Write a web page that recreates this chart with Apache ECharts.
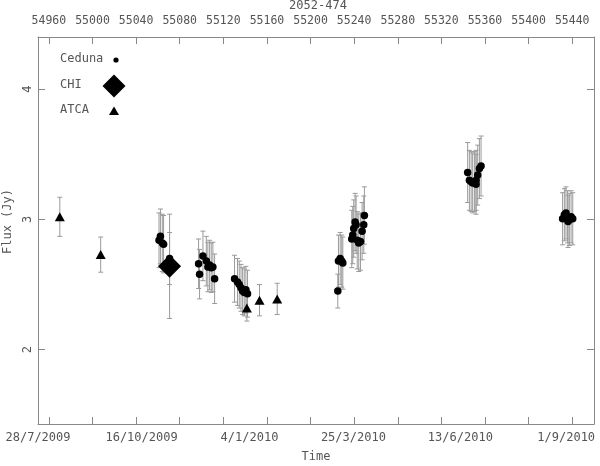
<!DOCTYPE html>
<html>
<head>
<meta charset="utf-8">
<script src="https://cdn.jsdelivr.net/npm/echarts@6/dist/echarts.min.js"></script>
<style>html,body{margin:0;padding:0;background:#fff}#c{width:600px;height:466px}</style>
</head>
<body>
<div id="c"></div>
<script>
// ---- data (MJD, flux Jy, error Jy) ----
const cedunaMJD  = [55061,55062.3,55064,55065.2,55070.7,
  55097.3,55101.3,55098.2,55104.4,55105.8,55107.4,55108.9,55110.4,55112,
  55130.3,55133,55134.6,55136.2,55137.7,55139.2,55140.7,55142.2,
  55225,55225.6,55227.2,55228.6,55229.6,55237.8,55238.7,55239.6,55240.9,55241.8,55242.8,55244.2,55245.8,55247.3,55248.8,55249.4,
  55344.1,55345.7,55347.3,55348.7,55350.3,55351.8,55351.8,55353.3,55354.9,55356.4,
  55431.2,55432.8,55434.3,55435.8,55436.2,55437.4,55439,55440.5];
const cedunaFlux = [2.84,2.87,2.82,2.81,2.70,
  2.66,2.72,2.58,2.68,2.635,2.65,2.63,2.635,2.545,
  2.545,2.52,2.50,2.475,2.45,2.44,2.46,2.43,
  2.45,2.68,2.70,2.68,2.665,2.85,2.88,2.93,2.98,2.96,2.84,2.82,2.83,2.91,2.96,3.03,
  3.36,3.30,3.29,3.28,3.29,3.30,3.27,3.34,3.39,3.41,
  3.005,3.036,3.05,3.02,2.985,3.0,3.02,3.005];
const cedunaErr  = [0.21,0.21,0.22,0.22,0.20,
  0.19,0.19,0.19,0.19,0.19,0.19,0.19,0.19,0.19,
  0.18,0.18,0.18,0.18,0.18,0.18,0.18,0.18,
  0.13,0.20,0.20,0.20,0.20,0.22,0.22,0.22,0.22,0.22,0.22,0.22,0.22,0.22,0.22,0.22,
  0.23,0.23,0.23,0.23,0.23,0.23,0.23,0.23,0.23,0.23,
  0.20,0.20,0.20,0.20,0.20,0.20,0.20,0.20];
const chiMJD  = [55070.7];
const chiFlux = [2.64];
const chiErr  = [0.40];
const atcaMJD  = [54970,55007.5,55141.6,55153.2,55169.4];
const atcaFlux = [3.02,2.73,2.32,2.38,2.39];
const atcaErr  = [0.15,0.135,0.10,0.12,0.12];
// ---- axis ticks / labels ----
const mjdTicks = [54960,55000,55040,55080,55120,55160,55200,55240,55280,55320,55360,55400,55440];
const dateLabels = ['28/7/2009','16/10/2009','4/1/2010','25/3/2010','13/6/2010','1/9/2010'];
const datePositions = [54950,55045,55144,55239.3,55337.4,55434.5];
const fluxTicks = [2,3,4];

const pack = (a,b,c)=>a.map((v,i)=>[v,b[i],c[i]]);
const ced = pack(cedunaMJD,cedunaFlux,cedunaErr);
const chi = pack(chiMJD,chiFlux,chiErr);
const atca = pack(atcaMJD,atcaFlux,atcaErr);

const FONT = 'DejaVu Sans Mono';
const TXT = '#555';
const AX = '#888';

function errRender(params, api){
  const x = api.value(0), y = api.value(1), e = api.value(2);
  const lo = api.coord([x, y-e]), hi = api.coord([x, y+e]);
  const w = 2.5;
  const st = {stroke:'#9a9a9a', lineWidth:1};
  return {type:'group', children:[
    {type:'line', shape:{x1:lo[0],y1:lo[1],x2:hi[0],y2:hi[1]}, style:st},
    {type:'line', shape:{x1:lo[0]-w,y1:lo[1],x2:lo[0]+w,y2:lo[1]}, style:st},
    {type:'line', shape:{x1:hi[0]-w,y1:hi[1],x2:hi[0]+w,y2:hi[1]}, style:st}
  ]};
}

const XMIN = 54950, XMAX = 55460, YMIN = 1.43, YMAX = 4.4;
const chart = echarts.init(document.getElementById('c'), null, {renderer:'canvas'});
chart.setOption({
  animation:false,
  backgroundColor:'#fff',
  title:{text:'2052-474', left:318, top:0, padding:0, textAlign:'center',
    textStyle:{fontFamily:FONT, fontSize:12, fontWeight:'normal', color:TXT}},
  grid:{left:38, right:6, top:37, bottom:42, containLabel:false, outerBoundsMode:'none'},
  xAxis:[
    {type:'value', position:'top', min:XMIN, max:XMAX,
      axisLine:{show:true, lineStyle:{color:AX}},
      axisTick:{show:true, inside:true, length:7, lineStyle:{color:AX}, customValues:mjdTicks},
      axisLabel:{show:true, customValues:mjdTicks, margin:10, fontFamily:FONT, fontSize:11.5, color:TXT,
        formatter:(v)=>String(v)},
      splitLine:{show:false}},
    {type:'value', position:'bottom', min:XMIN, max:XMAX,
      name:'Time', nameLocation:'middle', nameGap:27,
      nameTextStyle:{fontFamily:FONT, fontSize:12, color:TXT},
      axisLine:{show:true, lineStyle:{color:AX}},
      axisTick:{show:true, inside:true, length:7, lineStyle:{color:AX}, customValues:mjdTicks},
      axisLabel:{show:true, customValues:datePositions, margin:8, fontFamily:FONT, fontSize:12, color:TXT,
        formatter:(v)=>{let b=0;for(let i=1;i<datePositions.length;i++){if(Math.abs(datePositions[i]-v)<Math.abs(datePositions[b]-v))b=i;} return dateLabels[b];}},
      splitLine:{show:false}}
  ],
  yAxis:[
    {type:'value', position:'left', min:YMIN, max:YMAX,
      name:'Flux (Jy)', nameLocation:'middle', nameRotate:90, nameGap:18,
      nameTextStyle:{fontFamily:FONT, fontSize:12, color:TXT, padding:[0,0,0,18]},
      axisLine:{show:true, lineStyle:{color:AX}},
      axisTick:{show:true, inside:true, length:7, lineStyle:{color:AX}, customValues:fluxTicks},
      axisLabel:{show:true, customValues:fluxTicks, rotate:90, margin:4, fontFamily:FONT, fontSize:12, color:TXT},
      splitLine:{show:false}},
    {type:'value', position:'right', min:YMIN, max:YMAX,
      axisLine:{show:true, lineStyle:{color:AX}},
      axisTick:{show:true, inside:true, length:7, lineStyle:{color:AX}, customValues:fluxTicks},
      axisLabel:{show:false},
      splitLine:{show:false}}
  ],
  series:[
    {type:'custom', name:'errCeduna', renderItem:errRender, data:ced, encode:{x:0,y:1}, xAxisIndex:0, yAxisIndex:0, z:1, silent:true},
    {type:'custom', name:'errCHI', renderItem:errRender, data:chi, encode:{x:0,y:1}, xAxisIndex:0, yAxisIndex:0, z:1, silent:true},
    {type:'custom', name:'errATCA', renderItem:errRender, data:atca, encode:{x:0,y:1}, xAxisIndex:0, yAxisIndex:0, z:1, silent:true},
    {type:'scatter', name:'Ceduna', data:ced.map(d=>[d[0],d[1]]), symbol:'circle', symbolSize:7.5,
      itemStyle:{color:'#000', opacity:1}, xAxisIndex:0, yAxisIndex:0, z:3},
    {type:'scatter', name:'CHI', data:chi.map(d=>[d[0],d[1]]), symbol:'diamond', symbolSize:[23,23],
      itemStyle:{color:'#000', opacity:1}, xAxisIndex:0, yAxisIndex:0, z:4},
    {type:'scatter', name:'ATCA', data:atca.map(d=>[d[0],d[1]]), symbol:'triangle', symbolSize:[10,9],
      itemStyle:{color:'#000', opacity:1}, xAxisIndex:0, yAxisIndex:0, z:4}
  ],
  graphic:[
    {type:'text', left:60, top:53, style:{text:'Ceduna', fontFamily:FONT, fontSize:12, fill:TXT}},
    {type:'circle', shape:{cx:116, cy:60, r:2.6}, style:{fill:'#000'}},
    {type:'text', left:60, top:79, style:{text:'CHI', fontFamily:FONT, fontSize:12, fill:TXT}},
    {type:'polygon', shape:{points:[[114,74.5],[125.5,86],[114,97.5],[102.5,86]]}, style:{fill:'#000'}},
    {type:'text', left:60, top:104, style:{text:'ATCA', fontFamily:FONT, fontSize:12, fill:TXT}},
    {type:'polygon', shape:{points:[[114,106.5],[119,115],[109,115]]}, style:{fill:'#000'}}
  ]
});
</script>
</body>
</html>
